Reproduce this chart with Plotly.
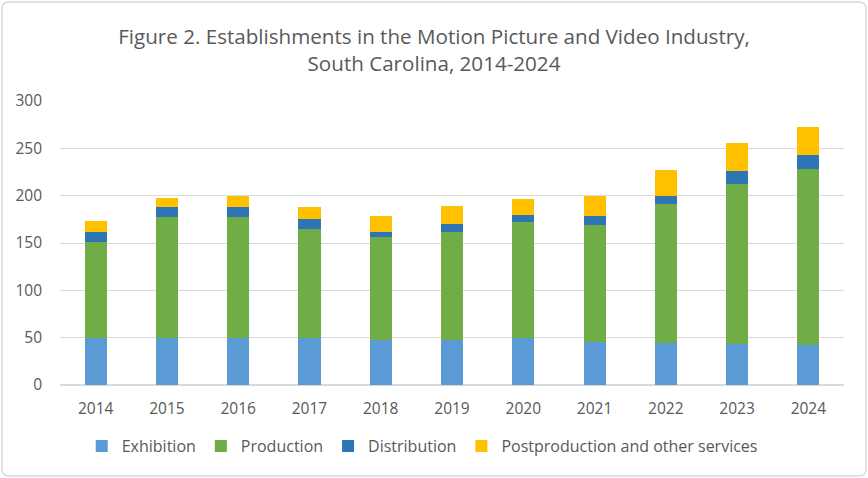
import plotly.graph_objects as go

years = ["2014", "2015", "2016", "2017", "2018", "2019", "2020", "2021", "2022", "2023", "2024"]
exhibition = [50, 50, 50, 50, 48, 48, 50, 45, 44, 43, 42]
production = [101, 127, 127, 115, 108, 114, 122, 124, 147, 169, 186]
distribution = [11, 11, 11, 10, 6, 8, 8, 10, 9, 14, 15]
postproduction = [11, 10, 12, 13, 16, 19, 16, 21, 27, 30, 30]

series = [
    ("Exhibition", exhibition, "#5b9bd5"),
    ("Production", production, "#70ad47"),
    ("Distribution", distribution, "#2e75b6"),
    ("Postproduction and other services", postproduction, "#ffc000"),
]

font_name = "Open Sans"
grey = "#595959"

fig = go.Figure()
for name, vals, col in series:
    fig.add_trace(go.Bar(x=years, y=vals, name=name, marker_color=col,
                         marker_line_width=0))

fig.update_layout(
    barmode="stack",
    bargap=0.69,
    width=868, height=478,
    paper_bgcolor="white", plot_bgcolor="white",
    margin=dict(l=60, r=24, t=101, b=93, autoexpand=False),
    font=dict(family=font_name, size=15, color=grey),
    title=dict(text="Figure 2. Establishments in the Motion Picture and Video Industry,<br>South Carolina, 2014-2024",
               x=0.5, xanchor="center", y=0.908, yanchor="top",
               font=dict(family=font_name, size=20.6, color=grey)),
    legend=dict(orientation="h", x=0.462, xanchor="center", y=-0.155, yanchor="top",
                font=dict(size=16, color=grey), traceorder="normal"),
    showlegend=True,
)
fig.update_yaxes(range=[0, 300], dtick=50, showgrid=True, gridcolor="#d9d9d9",
                 gridwidth=1, zeroline=True, zerolinecolor="#d9d9d9",
                 ticks="", ticklabelstandoff=17, tickfont=dict(size=15.5, color=grey))
fig.update_xaxes(showgrid=False, showline=True, linecolor="#d9d9d9", ticks="",
                 ticklabelstandoff=9, tickfont=dict(size=15.5, color=grey))

# outer chart border with rounded corners (paper coords, plot area is 784x284 px)
def px(x):
    return (x - 60) / 784

def py(y):
    return (385 - y) / 284

x0, x1, y0, y1, r = 2, 866, 2, 476, 7
path = (f"M{px(x0 + r)},{py(y0)} L{px(x1 - r)},{py(y0)} Q{px(x1)},{py(y0)} {px(x1)},{py(y0 + r)} "
        f"L{px(x1)},{py(y1 - r)} Q{px(x1)},{py(y1)} {px(x1 - r)},{py(y1)} "
        f"L{px(x0 + r)},{py(y1)} Q{px(x0)},{py(y1)} {px(x0)},{py(y1 - r)} "
        f"L{px(x0)},{py(y0 + r)} Q{px(x0)},{py(y0)} {px(x0 + r)},{py(y0)} Z")
fig.add_shape(type="path", xref="paper", yref="paper", path=path,
              line=dict(color="#d9d9d9", width=1.5), layer="below")

fig.write_html("out.html", config={"displayModeBar": False},
               post_script="document.body.style.margin='0';")
